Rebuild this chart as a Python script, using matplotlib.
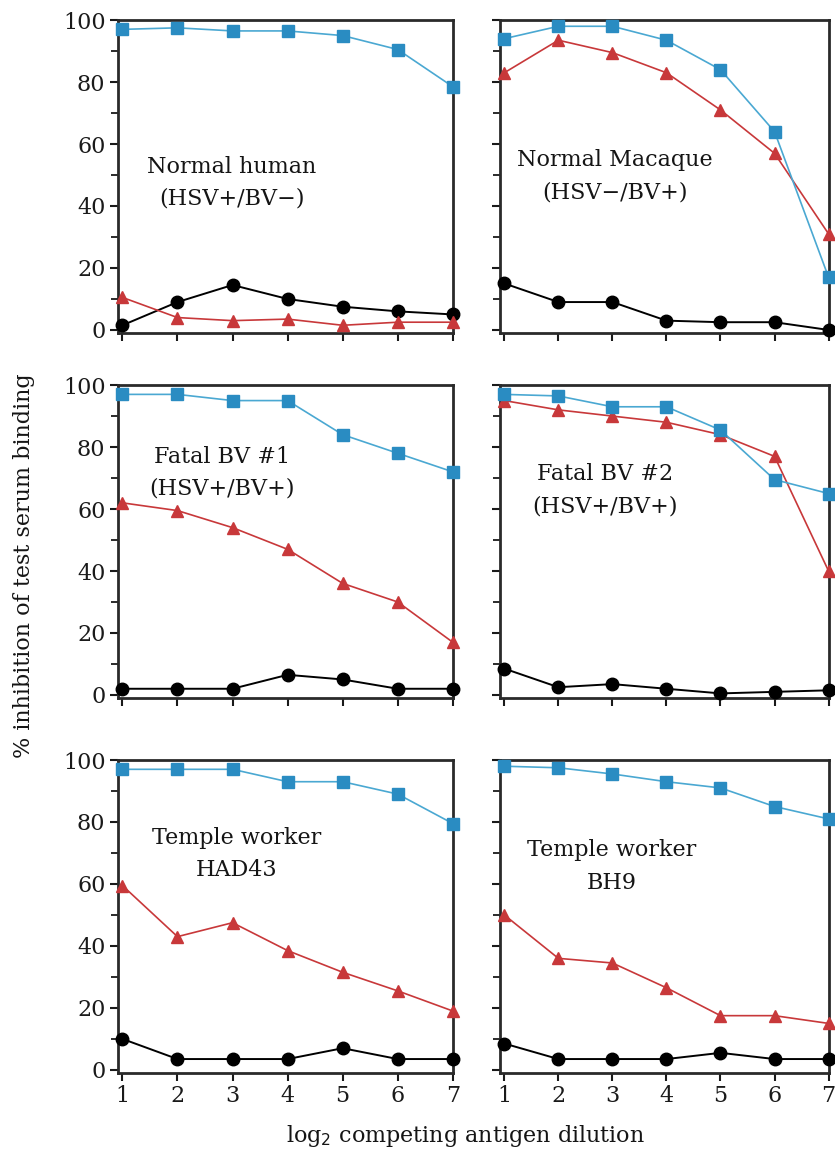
import matplotlib
matplotlib.use("Agg")
import matplotlib.pyplot as plt
from matplotlib.ticker import MultipleLocator

plt.rcParams['font.family'] = ['DejaVu Serif']

# log2 dilution steps
dilution = [1, 2, 3, 4, 5, 6, 7]

titles = ["Normal human\n(HSV+/BV\u2212)", "Normal Macaque\n(HSV\u2212/BV+)",
          "Fatal BV #1\n(HSV+/BV+)", "Fatal BV #2\n(HSV+/BV+)",
          "Temple worker\nHAD43", "Temple worker\nBH9"]

# blue squares
blue_vals = [
    [97, 97.5, 96.5, 96.5, 95, 90.5, 78.5],
    [94, 98, 98, 93.5, 84, 64, 17],
    [97, 97, 95, 95, 84, 78, 72],
    [97, 96.5, 93, 93, 85.5, 69.5, 65],
    [97, 97, 97, 93, 93, 89, 79.5],
    [98, 97.5, 95.5, 93, 91, 85, 81],
]
# red triangles
red_vals = [
    [10.5, 4, 3, 3.5, 1.5, 2.5, 2.5],
    [83, 93.5, 89.5, 83, 71, 57, 31],
    [62, 59.5, 54, 47, 36, 30, 17],
    [95, 92, 90, 88, 84, 77, 40],
    [59.5, 43, 47.5, 38.5, 31.5, 25.5, 19],
    [50, 36, 34.5, 26.5, 17.5, 17.5, 15],
]
# black circles
black_vals = [
    [1.5, 9, 14.5, 10, 7.5, 6, 5],
    [15, 9, 9, 3, 2.5, 2.5, 0],
    [2, 2, 2, 6.5, 5, 2, 2],
    [8.5, 2.5, 3.5, 2, 0.5, 1, 1.5],
    [10, 3.5, 3.5, 3.5, 7, 3.5, 3.5],
    [8.5, 3.5, 3.5, 3.5, 5.5, 3.5, 3.5],
]

text_pos = [(0.34, 0.48), (0.35, 0.50), (0.31, 0.72),
            (0.32, 0.665), (0.355, 0.70), (0.34, 0.66)]

fig = plt.figure(figsize=(8.35, 11.54), dpi=100)

lefts = [0.1413, 0.5988]
widths = [0.401, 0.3935]
bottoms = [0.7114, 0.3951, 0.0702]
h = 0.2712

for i in range(6):
    row, col = i // 2, i % 2
    ax = fig.add_axes([lefts[col], bottoms[row], widths[col], h])
    ax.plot(dilution, black_vals[i], '-o', color='black', lw=1.4, ms=9,
            clip_on=False, zorder=3)
    ax.plot(dilution, red_vals[i], '-^', color='#c8383a', mfc='#c8383a', mec='#c8383a',
            lw=1.2, ms=8.5, clip_on=False, zorder=4)
    ax.plot(dilution, blue_vals[i], '-s', color='#4aa8d2', mfc='#2a8cc2', mec='#2a8cc2',
            lw=1.2, ms=8.5, clip_on=False, zorder=5)
    ax.set_xlim(0.92, 7.0)
    ax.set_ylim(-1, 100)
    ax.set_xticks(dilution)
    ax.yaxis.set_major_locator(MultipleLocator(20))
    ax.yaxis.set_minor_locator(MultipleLocator(10))
    ax.tick_params(axis='both', which='major', direction='out', length=6, width=1.5,
                   labelsize=16, colors='#1a1a1a', pad=3)
    ax.tick_params(axis='y', which='minor', direction='out', length=5, width=1.3,
                   colors='#1a1a1a')
    ax.tick_params(top=False, right=False)
    for sp in ax.spines.values():
        sp.set_linewidth(2.0)
        sp.set_color('#2a2a2a')
    if col == 1:
        ax.tick_params(axis='y', which='both', labelleft=False)
    if row < 2:
        ax.tick_params(axis='x', labelbottom=False)
    ax.text(text_pos[i][0], text_pos[i][1], titles[i], transform=ax.transAxes,
            ha='center', va='center', fontsize=16, color='#151515',
            linespacing=1.6)

fig.text(0.029, 0.5095, "% inhibition of test serum binding", rotation=90,
         ha='center', va='center', fontsize=16, color='#151515')
fig.text(0.557, 0.016, "log$_2$ competing antigen dilution",
         ha='center', va='center', fontsize=16, color='#151515')

fig.savefig("out.png", dpi=100)
